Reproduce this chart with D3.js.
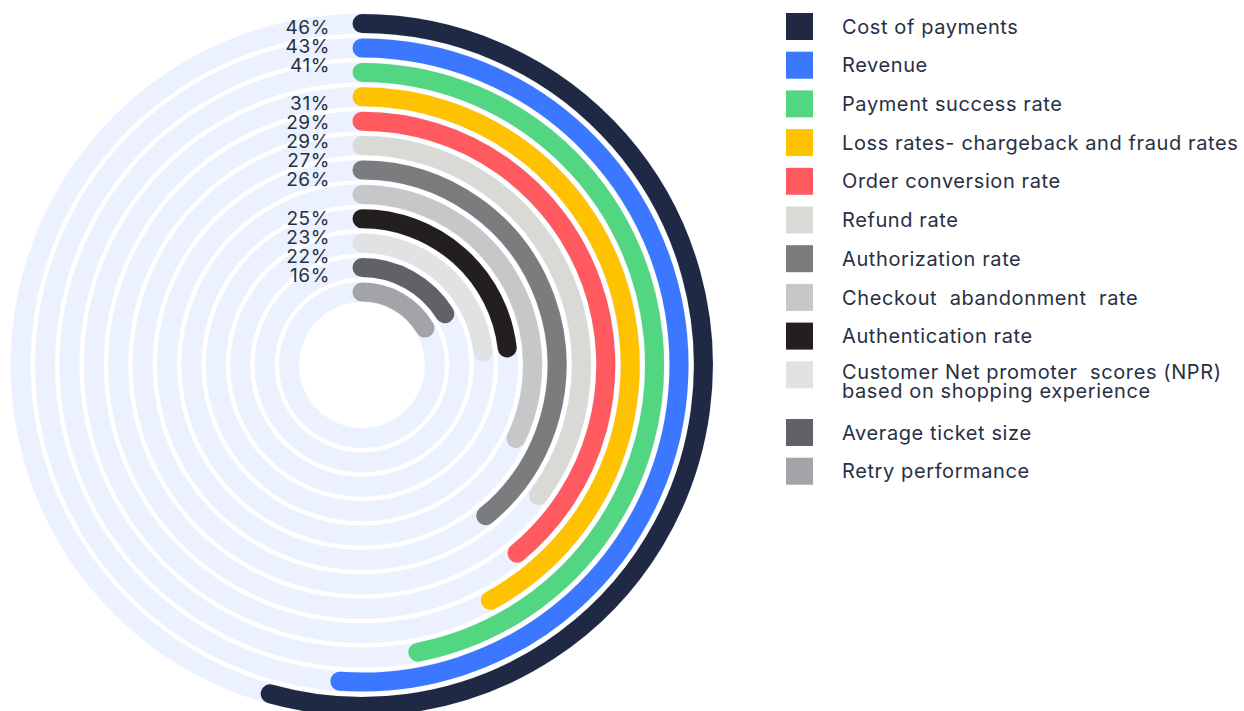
<!DOCTYPE html>
<html>
<head>
<meta charset="utf-8">
<script src="https://cdn.jsdelivr.net/npm/d3@7"></script>
<style>
  html, body { margin: 0; padding: 0; background: #fff; }
  svg text { font-family: Inter, "Open Sans", sans-serif; fill: #283044; white-space: pre; }
</style>
</head>
<body>
<div id="chart"></div>
<script>
// outermost ring first
const categories = [
  "Cost of payments",
  "Revenue",
  "Payment success rate",
  "Loss rates- chargeback and fraud rates",
  "Order conversion rate",
  "Refund rate",
  "Authorization rate",
  "Checkout  abandonment  rate",
  "Authentication rate",
  "Customer Net promoter  scores (NPR)\nbased on shopping experience",
  "Average ticket size",
  "Retry performance"
];
const values = [46, 43, 41, 31, 29, 29, 27, 26, 25, 23, 22, 16];
// drawn length of each arc (degrees clockwise from 12 o'clock)
const arcDegrees = [195.6, 184, 169, 151.4, 140.5, 126.5, 140.6, 115.5, 83.3, 83.9, 58.3, 59.6];

const colors = ["#1f2944", "#3b78ff", "#52d681", "#ffc200", "#ff5a5f", "#d9dad6",
                "#7b7c7e", "#c6c7c9", "#231f20", "#e1e2e4", "#616265", "#a3a4a8"];

const width = 1244, height = 711;
const cx = 362, cy = 365;

const svg = d3.select("#chart").append("svg")
  .attr("width", width)
  .attr("height", height);

const angle = d3.scaleLinear().domain([0, 360]).range([0, 2 * Math.PI]);

// rings: innermost category nearest the hole
const radius = d3.scaleBand()
  .domain(categories.slice().reverse())
  .range([63, 351.4])
  .paddingInner(0.18)
  .paddingOuter(0);

const bw = radius.bandwidth();

const g = svg.append("g").attr("transform", `translate(${cx},${cy})`);

// light blue tracks
const track = d3.arc().startAngle(0).endAngle(2 * Math.PI);
g.selectAll("path.track")
  .data(categories)
  .join("path")
  .attr("class", "track")
  .attr("fill", "#ebf1fe")
  .attr("d", d => track({ innerRadius: radius(d), outerRadius: radius(d) + bw }));

// bars with round caps
g.selectAll("path.bar")
  .data(categories)
  .join("path")
  .attr("class", "bar")
  .attr("fill", "none")
  .attr("stroke", (d, i) => colors[i])
  .attr("stroke-width", bw - 1)
  .attr("stroke-linecap", "round")
  .attr("d", (d, i) => {
    const r = radius(d) + bw / 2;
    const p = d3.path();
    p.arc(0, 0, r, -Math.PI / 2, -Math.PI / 2 + angle(arcDegrees[i]), false);
    return p.toString();
  });

// percentage labels, stacked in three groups left of the bar starts
const slot = i => i + (i >= 3 ? 1 : 0) + (i >= 8 ? 1 : 0);
const labelY = d3.scaleLinear().domain([0, 13]).range([26.7, 275]);
svg.selectAll("text.pct")
  .data(values)
  .join("text")
  .attr("class", "pct")
  .attr("x", cx - 32)
  .attr("y", (d, i) => labelY(slot(i)))
  .attr("dy", "0.36em")
  .attr("text-anchor", "end")
  .attr("font-size", 19)
  .attr("letter-spacing", 0.6)
  .text(d => d + "%");

// legend
const legend = svg.append("g").attr("transform", "translate(786,13)");
let offset = 0;
categories.forEach((c, i) => {
  const lines = c.split("\n");
  const row = legend.append("g").attr("transform", `translate(0,${i * 38.7 + offset})`);
  row.append("rect")
    .attr("width", 27).attr("height", 27)
    .attr("fill", colors[i]);
  const t = row.append("text")
    .attr("x", 56)
    .attr("y", 13.5 - (lines.length - 1) * 3)
    .attr("font-size", 20)
    .attr("letter-spacing", 0.6);
  lines.forEach((l, k) => {
    t.append("tspan")
      .attr("x", 56)
      .attr("dy", k === 0 ? "0.36em" : 19)
      .text(l);
  });
  offset += (lines.length - 1) * 19;
});
</script>
</body>
</html>
